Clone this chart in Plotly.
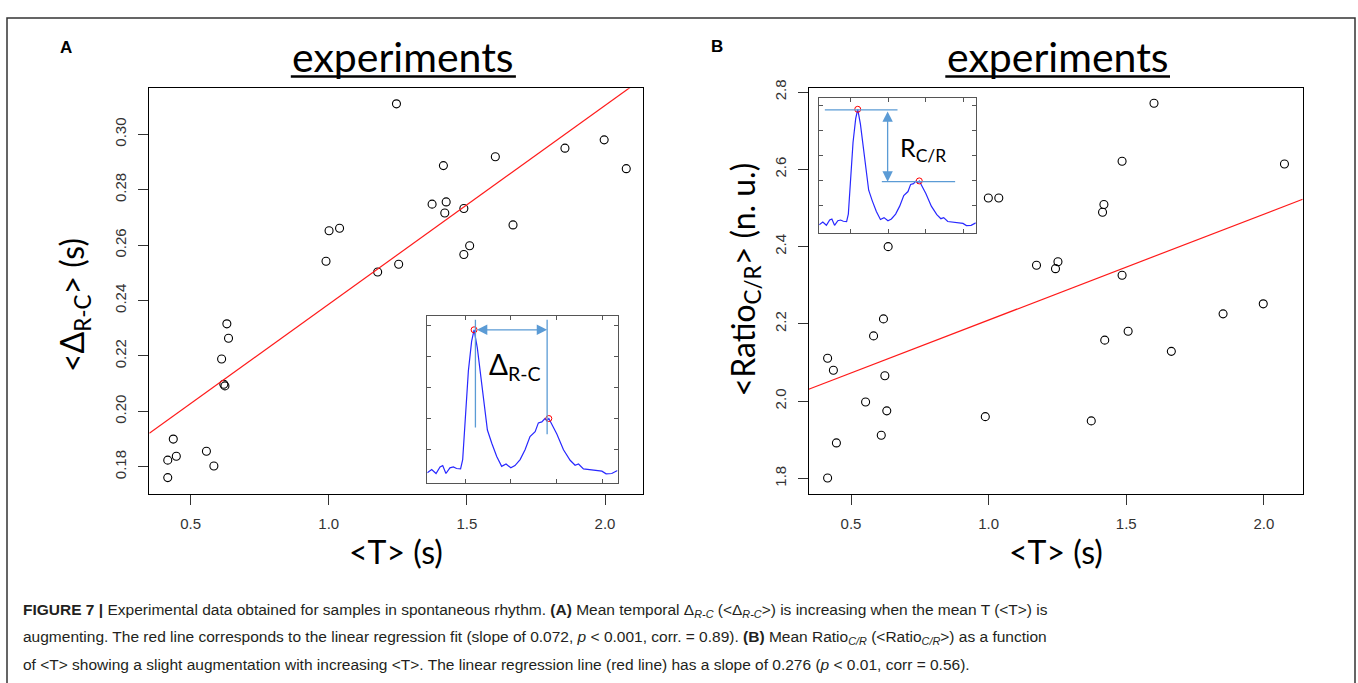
import plotly.graph_objects as go

W, H = 1358, 683

# ---------------- data ----------------
# Panel A: <T> (s) vs <Delta_R-C> (s)
t_a = [1.245, 1.997, 1.855, 2.077, 1.603, 1.415, 1.374, 1.425, 1.420, 1.489,
       1.667, 1.001, 1.039, 1.489, 1.510, 0.990, 1.177, 1.253, 0.631, 0.637,
       0.612, 0.620, 0.624, 0.437, 0.417, 0.448, 0.557, 0.584, 0.417]
delta_rc = [0.311, 0.298, 0.295, 0.2876, 0.2919, 0.2887, 0.2748, 0.2756, 0.2716, 0.2732,
            0.2673, 0.2652, 0.2661, 0.2566, 0.2598, 0.2542, 0.2503, 0.2531, 0.2316, 0.2264,
            0.2189, 0.2098, 0.2092, 0.1900, 0.1824, 0.1838, 0.1856, 0.1803, 0.1761]

# Panel B: <T> (s) vs <Ratio_C/R> (n. u.)
t_b = [1.601, 1.485, 2.075, 0.999, 1.037, 1.419, 1.414, 0.635, 1.174, 1.252,
       1.243, 1.485, 1.998, 1.852, 0.618, 0.582, 1.507, 1.422, 1.664, 0.415,
       0.436, 0.623, 0.553, 0.630, 0.988, 1.373, 0.610, 0.447, 0.415]
ratio_cr = [2.771, 2.621, 2.614, 2.526, 2.526, 2.509, 2.489, 2.400, 2.352, 2.361,
            2.343, 2.326, 2.252, 2.226, 2.213, 2.169, 2.181, 2.158, 2.129, 2.111,
            2.080, 2.066, 1.998, 1.975, 1.960, 1.949, 1.912, 1.892, 1.801]

# linear regression fits
slope_a, intercept_a = 0.0717, 0.167
slope_b, intercept_b = 0.274, 1.936

# tick labels
x_ticks = [0.5, 1.0, 1.5, 2.0]
y_ticks_a = [0.18, 0.20, 0.22, 0.24, 0.26, 0.28, 0.30]
y_ticks_b = [1.8, 2.0, 2.2, 2.4, 2.6, 2.8]

# axis ranges
x_range_a = [0.3502, 2.1365]
y_range_a = [0.17035, 0.31663]
x_range_b = [0.3463, 2.1413]
y_range_b = [1.761, 2.810]

# inset signal (normalised time / amplitude)
sig_t = [0.0, 0.023, 0.046, 0.067, 0.081, 0.098, 0.119, 0.137, 0.154, 0.175,
         0.186, 0.200, 0.216, 0.233, 0.246, 0.263, 0.281, 0.298, 0.316, 0.339,
         0.365, 0.391, 0.414, 0.439, 0.461, 0.488, 0.514, 0.540, 0.567, 0.584,
         0.602, 0.619, 0.628, 0.639, 0.654, 0.681, 0.716, 0.751, 0.777, 0.795,
         0.821, 0.856, 0.891, 0.918, 0.940, 0.970, 1.0]
sig_v = [0.059, 0.079, 0.055, 0.094, 0.102, 0.055, 0.089, 0.094, 0.085, 0.083,
         0.138, 0.394, 0.669, 0.846, 0.915, 0.807, 0.650, 0.472, 0.315, 0.236,
         0.157, 0.098, 0.112, 0.089, 0.102, 0.138, 0.197, 0.276, 0.305, 0.358,
         0.364, 0.384, 0.370, 0.384, 0.350, 0.291, 0.197, 0.134, 0.104, 0.112,
         0.083, 0.079, 0.073, 0.069, 0.053, 0.055, 0.073]
peak_t = [0.246, 0.639]
peak_v = [0.915, 0.384]
inset_xticks = [0.2, 0.44, 0.68, 0.92]
inset_yticks = [0.2, 0.385, 0.57, 0.755, 0.94]


def px(x):
    return x / W


def py(y):
    return 1 - y / H


fig = go.Figure()

# ---- Panel A ----
fig.add_trace(go.Scatter(x=t_a, y=delta_rc, mode="markers", xaxis="x", yaxis="y",
                         marker=dict(symbol="circle-open", size=8, color="black",
                                     line=dict(width=1.1, color="black")),
                         showlegend=False))
fig.add_trace(go.Scatter(x=x_range_a, y=[intercept_a + slope_a * v for v in x_range_a],
                         mode="lines", xaxis="x", yaxis="y",
                         line=dict(color="#ff1a1a", width=1.2), showlegend=False))

# ---- Panel B ----
fig.add_trace(go.Scatter(x=t_b, y=ratio_cr, mode="markers", xaxis="x2", yaxis="y2",
                         marker=dict(symbol="circle-open", size=8, color="black",
                                     line=dict(width=1.1, color="black")),
                         showlegend=False))
fig.add_trace(go.Scatter(x=x_range_b, y=[intercept_b + slope_b * v for v in x_range_b],
                         mode="lines", xaxis="x2", yaxis="y2",
                         line=dict(color="#ff1a1a", width=1.2), showlegend=False))

# ---- Insets ----
for xa, ya in (("x3", "y3"), ("x4", "y4")):
    fig.add_trace(go.Scatter(x=sig_t, y=sig_v, mode="lines", xaxis=xa, yaxis=ya,
                             line=dict(color="#2828ff", width=1.2), showlegend=False))
    fig.add_trace(go.Scatter(x=peak_t, y=peak_v, mode="markers", xaxis=xa, yaxis=ya,
                             marker=dict(symbol="circle-open", size=6, color="red",
                                         line=dict(width=1, color="red")),
                             showlegend=False))

tickfont = dict(family="Liberation Sans, Arial", size=15, color="#333")
main_ax = dict(showline=True, mirror=True, linecolor="black", linewidth=1.3,
               ticks="outside", ticklen=10, tickwidth=1, tickcolor="#333",
               showgrid=False, zeroline=False, tickfont=tickfont, ticklabelstandoff=6)
inset_ax = dict(showline=True, mirror="ticks", linecolor="#555", linewidth=1,
                ticks="inside", ticklen=4, tickwidth=1, tickcolor="#555",
                showgrid=False, zeroline=False, showticklabels=False, range=[0, 1])

ydom = [py(491), py(80.3)]
fig.update_layout(
    width=W, height=H, autosize=False,
    margin=dict(l=0, r=0, t=0, b=0),
    paper_bgcolor="white", plot_bgcolor="white",
    xaxis=dict(domain=[px(149.3), px(642.7)], range=x_range_a, anchor="y",
               tickvals=x_ticks, tickformat=".1f", **main_ax),
    yaxis=dict(domain=ydom, range=y_range_a, anchor="x",
               tickvals=y_ticks_a, tickformat=".2f", tickangle=-90, **main_ax),
    xaxis2=dict(domain=[px(808.7), px(1302.7)], range=x_range_b, anchor="y2",
                tickvals=x_ticks, tickformat=".1f", **main_ax),
    yaxis2=dict(domain=ydom, range=y_range_b, anchor="x2",
                tickvals=y_ticks_b, tickformat=".1f", tickangle=-90, **main_ax),
    xaxis3=dict(domain=[px(427.3), px(617.5)], anchor="y3", tickvals=inset_xticks, **inset_ax),
    yaxis3=dict(domain=[py(480), py(310.7)], anchor="x3", tickvals=inset_yticks, **inset_ax),
    xaxis4=dict(domain=[px(819.2), px(975.8)], anchor="y4", tickvals=inset_xticks, **inset_ax),
    yaxis4=dict(domain=[py(226.7), py(90)], anchor="x4", tickvals=inset_yticks, **inset_ax),
)

title_font = dict(family="Lato, Open Sans, sans-serif", color="black")
C = dict(xanchor="center", yanchor="middle", showarrow=False)
ann = []
# panel letters
ann.append(dict(text="<b>A</b>", x=px(66), y=py(39), xref="paper", yref="paper",
                font=dict(family="Liberation Sans, Arial", size=17, color="black"), **C))
ann.append(dict(text="<b>B</b>", x=px(717), y=py(38), xref="paper", yref="paper",
                font=dict(family="Liberation Sans, Arial", size=17, color="black"), **C))
# titles
for cx in (403.4, 1057.8):
    ann.append(dict(text="experiments", x=px(cx), y=py(48), xref="paper", yref="paper",
                    font=dict(size=41, **title_font), **C))
# axis titles
for cx in (396, 1055.7):
    ann.append(dict(text="&lt;T&gt; (s)", x=px(cx), y=py(550), xref="paper", yref="paper",
                    font=dict(size=32, **title_font), **C))
ann.append(dict(text="&lt;Δ<sub>R-C</sub>&gt; (s)", x=px(74), y=py(300), xref="paper",
                yref="paper", textangle=-90, font=dict(size=32, **title_font), **C))
ann.append(dict(text="&lt;Ratio<sub>C/R</sub>&gt; (n. u.)", x=px(745), y=py(274),
                xref="paper", yref="paper", textangle=-90,
                font=dict(size=32, **title_font), **C))

# inset annotations
arrow_col = "#5b9bd5"
ann.append(dict(text="", x=0.63, y=0.915, ax=0.253, ay=0.915, xref="x3", yref="y3",
                axref="x3", ayref="y3", showarrow=True, arrowside="end+start",
                arrowhead=2, startarrowhead=2, arrowsize=1.6, startarrowsize=1.6,
                arrowwidth=1.3, arrowcolor=arrow_col))
ann.append(dict(text="Δ<sub>R-C</sub>", x=0.46, y=0.70, xref="x3", yref="y3",
                xanchor="center", yanchor="middle", showarrow=False,
                font=dict(size=28, **title_font)))
ann.append(dict(text="", x=0.437, y=0.378, ax=0.437, ay=0.91, xref="x4", yref="y4",
                axref="x4", ayref="y4", showarrow=True, arrowside="end+start",
                arrowhead=2, startarrowhead=2, arrowsize=1.6, startarrowsize=1.6,
                arrowwidth=1.3, arrowcolor=arrow_col))
ann.append(dict(text="R<sub>C/R</sub>", x=0.66, y=0.62, xref="x4", yref="y4",
                xanchor="center", yanchor="middle", showarrow=False,
                font=dict(size=25, **title_font)))

# caption
cap_font = dict(family="Liberation Sans, Arial", size=15.5, color="#231f20")
cap_lines = [
    "<b>FIGURE 7 |</b> Experimental data obtained for samples in spontaneous rhythm. "
    "<b>(A)</b> Mean temporal Δ<sub><i>R-C</i></sub> (&lt;Δ<sub><i>R-C</i></sub>&gt;) "
    "is increasing when the mean T (&lt;T&gt;) is",
    "augmenting. The red line corresponds to the linear regression fit (slope of 0.072, "
    "<i>p</i> &lt; 0.001, corr. = 0.89). <b>(B)</b> Mean Ratio<sub><i>C/R</i></sub> "
    "(&lt;Ratio<sub><i>C/R</i></sub>&gt;) as a function",
    "of &lt;T&gt; showing a slight augmentation with increasing &lt;T&gt;. The linear "
    "regression line (red line) has a slope of 0.276 (<i>p</i> &lt; 0.01, corr = 0.56).",
]
for i, line in enumerate(cap_lines):
    ann.append(dict(text=line, x=px(21), y=py(610 + 27 * i), xref="paper", yref="paper",
                    xanchor="left", yanchor="middle", showarrow=False, font=cap_font))

fig.update_layout(annotations=ann)

shapes = []
# outer frame
shapes.append(dict(type="rect", xref="paper", yref="paper", x0=px(7), x1=px(1355),
                   y0=-0.05, y1=py(9), line=dict(color="#333", width=1.5)))
# title underlines
for x0, x1 in ((290.8, 515.9), (945.3, 1170)):
    shapes.append(dict(type="line", xref="paper", yref="paper", x0=px(x0), x1=px(x1),
                       y0=py(68.5), y1=py(68.5), line=dict(color="black", width=2.5)))
# inset guide lines
shapes.append(dict(type="line", xref="x3", yref="y3", x0=0.253, x1=0.253, y0=0.33, y1=0.975,
                   line=dict(color=arrow_col, width=1.3)))
shapes.append(dict(type="line", xref="x3", yref="y3", x0=0.63, x1=0.63, y0=0.29, y1=0.975,
                   line=dict(color=arrow_col, width=1.3)))
shapes.append(dict(type="line", xref="x4", yref="y4", x0=0.036, x1=0.5, y0=0.91, y1=0.91,
                   line=dict(color=arrow_col, width=1.3)))
shapes.append(dict(type="line", xref="x4", yref="y4", x0=0.40, x1=0.868, y0=0.378, y1=0.378,
                   line=dict(color=arrow_col, width=1.3)))
fig.update_layout(shapes=shapes)

fig.write_html("out.html")
